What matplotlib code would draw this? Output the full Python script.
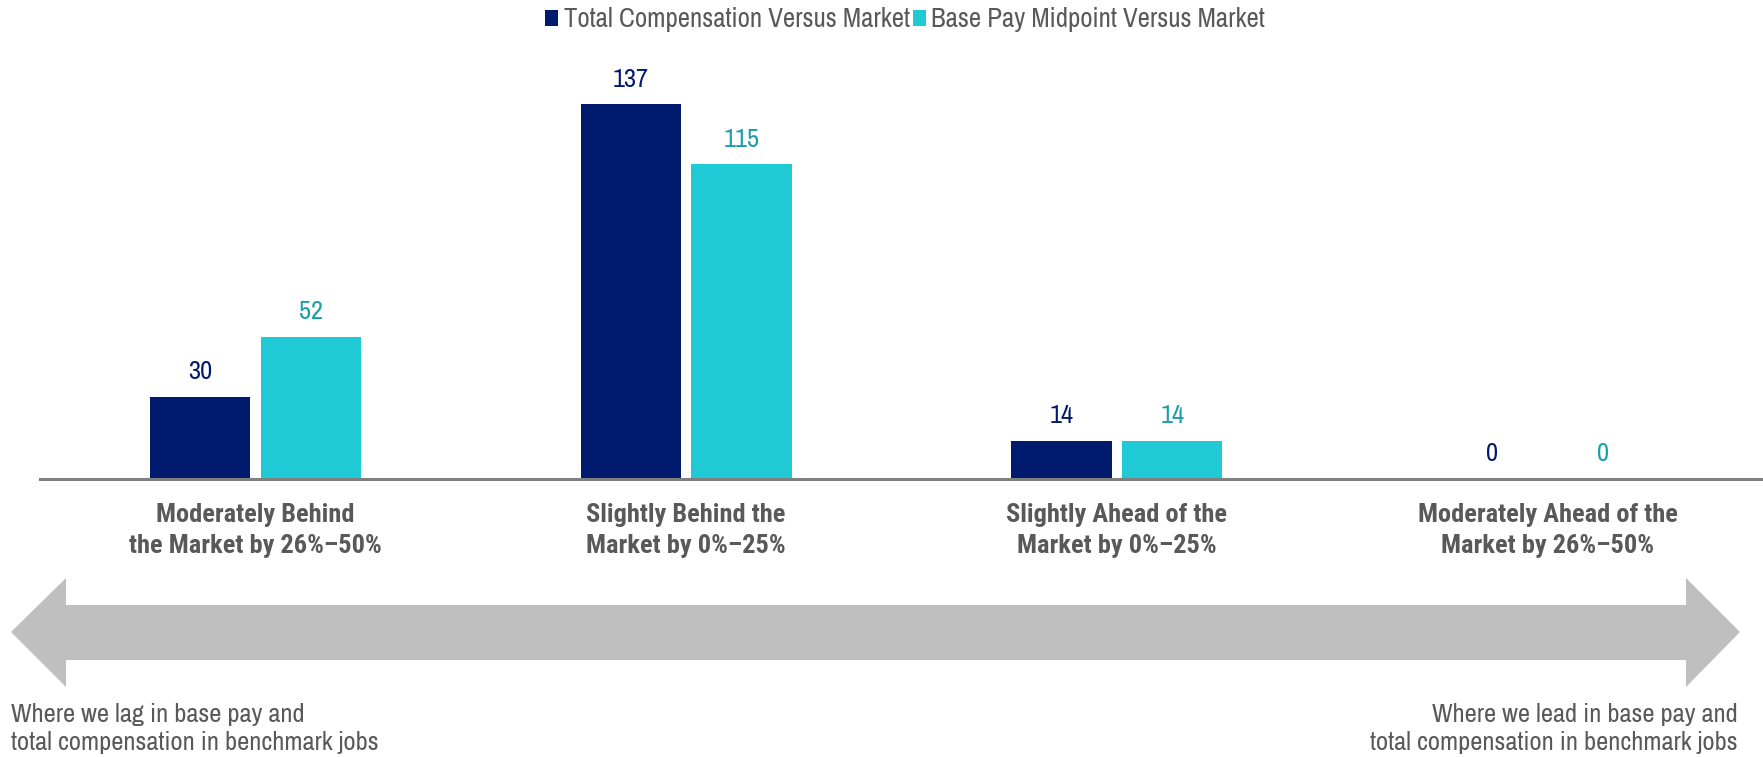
import numpy as np
import matplotlib.pyplot as plt
from matplotlib.patches import Polygon
from matplotlib.transforms import blended_transform_factory

categories = ["Moderately Behind\nthe Market by 26%\u201350%",
              "Slightly Behind the\nMarket by 0%\u201325%",
              "Slightly Ahead of the\nMarket by 0%\u201325%",
              "Moderately Ahead of the\nMarket by 26%\u201350%"]
total_comp = [30, 137, 14, 0]
base_pay = [52, 115, 14, 0]
series_names = ["Total Compensation Versus Market", "Base Pay Midpoint Versus Market"]
note_left = "Where we lag in base pay and\ntotal compensation in benchmark jobs"
note_right = "Where we lead in base pay and\ntotal compensation in benchmark jobs"

navy = "#001b6e"
cyan = "#1fcad4"
cyan_txt = "#1a9ea8"
gray_txt = "#595959"

plt.rcParams['font.family'] = ['Archivo Narrow', 'Liberation Sans', 'DejaVu Sans']
bold_font = ['Roboto Condensed', 'Liberation Sans', 'DejaVu Sans']

W, H = 1763, 757
fig = plt.figure(figsize=(W / 100, H / 100), dpi=100)


def fy(yp):
    # pixel row from top -> figure fraction
    return 1 - yp / H


# axes placed in pixel terms
ax_left, ax_right, ax_base, ax_top = 40, 1763, 479, 479 - 150 * 2.735
ax = fig.add_axes([ax_left / W, fy(ax_base), (ax_right - ax_left) / W, (ax_base - ax_top) / H])

x = np.arange(len(categories))
bw = 0.233
off = 0.1286
b1 = ax.bar(x - off, total_comp, bw, color=navy, label=series_names[0])
b2 = ax.bar(x + off, base_pay, bw, color=cyan, label=series_names[1])

for rect, v in zip(b1, total_comp):
    ax.annotate(str(v), (rect.get_x() + rect.get_width() / 2, v), xytext=(0, 12.7),
                textcoords="offset points", ha="center", va="baseline", fontsize=19, color=navy)
for rect, v in zip(b2, base_pay):
    ax.annotate(str(v), (rect.get_x() + rect.get_width() / 2, v), xytext=(0, 12.7),
                textcoords="offset points", ha="center", va="baseline", fontsize=19, color=cyan_txt)

ax.set_xlim(-0.5, 3.5)
ax.set_ylim(0, 150)
ax.set_yticks([])
ax.set_xticks([])
for s in ["top", "left", "right"]:
    ax.spines[s].set_visible(False)
ax.spines["bottom"].set_color("#808080")
ax.spines["bottom"].set_linewidth(2.2)

# category labels under the axis (baseline given for the last line)
tr = blended_transform_factory(ax.transData, fig.transFigure)
for i, lab in enumerate(categories):
    ax.text(i, fy(552.5), lab, transform=tr, ha="center", va="baseline", family=bold_font,
            fontsize=19, fontweight="bold", color=gray_txt, linespacing=1.36)

fig.legend(loc="center", bbox_to_anchor=(905 / W, fy(20)), ncol=2, frameon=False,
           fontsize=19.3, labelcolor=gray_txt, handlelength=0.5, handleheight=0.5,
           handletextpad=0.2, columnspacing=0.12)

# double-headed arrow
pts = [(11, 632), (66, 578), (66, 605), (1686, 605), (1686, 578), (1740, 632),
       (1686, 687), (1686, 660), (66, 660), (66, 687)]
fig.patches.append(Polygon([(a / W, fy(b)) for a, b in pts], closed=True, transform=fig.transFigure,
                           facecolor="#bfbfbf", edgecolor="none"))

fig.text(11 / W, fy(750), note_left, ha="left", va="baseline", fontsize=19.1,
         color=gray_txt, linespacing=1.27)
fig.text(1738 / W, fy(750), note_right, ha="right", va="baseline", fontsize=19.1,
         color=gray_txt, linespacing=1.27, multialignment="right")

fig.savefig("out.png", dpi=100)
